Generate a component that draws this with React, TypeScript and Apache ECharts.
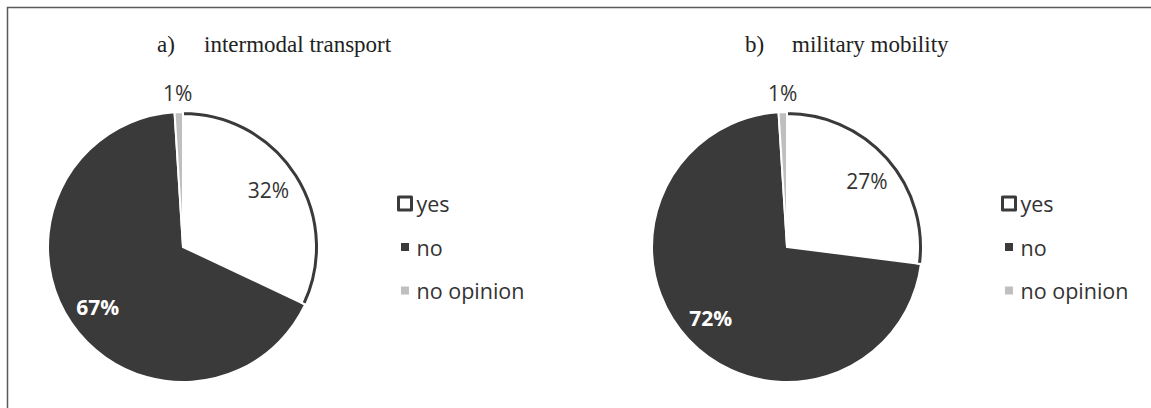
import React, { useEffect, useRef } from "react";
import * as echarts from "echarts";

const categories = ["yes", "no", "no opinion"];
const valuesA = [32, 67, 1];
const valuesB = [27, 72, 1];
const titlesA = ["a)", "intermodal transport"];
const titlesB = ["b)", "military mobility"];

const DARK = "#3a3a3a";
const GRAY = "#bfbfbf";
const SANS = "'Open Sans', 'Noto Sans', sans-serif";
const SERIF = "'Liberation Serif', 'Times New Roman', serif";

const sliceColors = ["#ffffff", DARK, GRAY];

const labelOffsetsA = [
  [26, -19],
  [-27, 20],
  [-3, -84],
];
const labelOffsetsB = [
  [27, -19],
  [-25, 23],
  [-2, -84],
];

function pieData(values: number[]) {
  return categories.map((name, i) => ({
    name,
    value: values[i],
    itemStyle: { color: sliceColors[i] },
    label:
      i === 1
        ? { color: "#ffffff", fontWeight: "bold" as const }
        : { color: "#333333", fontWeight: "normal" as const },
  }));
}

function ringData(values: number[]) {
  return categories.map((name, i) => ({
    name,
    value: values[i],
    itemStyle:
      i === 0
        ? { color: DARK, borderColor: "#ffffff", borderWidth: 2 }
        : { color: "rgba(0,0,0,0)", borderWidth: 0 },
  }));
}

function pieSeries(values: number[], center: number[], offsets: number[][]) {
  return [
    {
      type: "pie",
      center,
      radius: 135,
      startAngle: 90,
      clockwise: true,
      data: pieData(values),
      itemStyle: { borderColor: "#ffffff", borderWidth: 2 },
      label: {
        show: true,
        position: "inside",
        formatter: "{c}%",
        fontFamily: SANS,
        fontSize: 21,
      },
      labelLine: { show: false },
      labelLayout: (p: any) => ({
        dx: offsets[p.dataIndex][0],
        dy: offsets[p.dataIndex][1],
      }),
      emphasis: { disabled: true },
    },
    {
      type: "pie",
      center,
      radius: [131, 136],
      startAngle: 90,
      clockwise: true,
      silent: true,
      data: ringData(values),
      label: { show: false },
      labelLine: { show: false },
      emphasis: { disabled: true },
    },
  ];
}

function legendData() {
  return [
    { name: "yes", icon: "rect", itemStyle: { color: "#ffffff", borderColor: DARK, borderWidth: 3 } },
    { name: "no", icon: "rect", itemStyle: { color: DARK, borderColor: "#ffffff", borderWidth: 5 } },
    { name: "no opinion", icon: "rect", itemStyle: { color: GRAY, borderColor: "#ffffff", borderWidth: 5 } },
  ];
}

function legend(left: number, seriesIndex: number) {
  return {
    orient: "vertical",
    left,
    top: 192,
    padding: 0,
    itemWidth: 13,
    itemHeight: 13,
    itemGap: 20.5,
    selectedMode: false,
    seriesIndex,
    data: legendData(),
    textStyle: { fontFamily: SANS, fontSize: 21.5, color: "#333333", lineHeight: 23 },
  };
}

function titleStyle() {
  return { fontFamily: SERIF, fontSize: 23, fontWeight: "normal", color: "#222222" };
}

function title(text: string, left: number) {
  return { text, left, top: 33, padding: 0, textStyle: titleStyle() };
}

export default function App() {
  const ref = useRef<HTMLDivElement>(null);
  useEffect(() => {
    if (!ref.current) return;
    const chart = echarts.init(ref.current, undefined, { renderer: "svg" });
    chart.setOption({
      animation: false,
      backgroundColor: "#ffffff",
      title: [title(titlesA[0], 157), title(titlesA[1], 204), title(titlesB[0], 745), title(titlesB[1], 792)],
      legend: [legend(396, 0), legend(1000, 2)],
      graphic: [
        {
          type: "polyline",
          silent: true,
          shape: { points: [[7.5, 408], [7.5, 7.5], [1151, 7.5]] },
          style: { stroke: "#5a5a5a", lineWidth: 1.5, fill: "none" },
        },
      ],
      series: [
        ...pieSeries(valuesA, [183, 247], labelOffsetsA),
        ...pieSeries(valuesB, [787, 247], labelOffsetsB),
      ],
    });
    return () => chart.dispose();
  }, []);
  return <div ref={ref} style={{ position: "absolute", left: 0, top: 0, width: 1151, height: 408 }} />;
}
